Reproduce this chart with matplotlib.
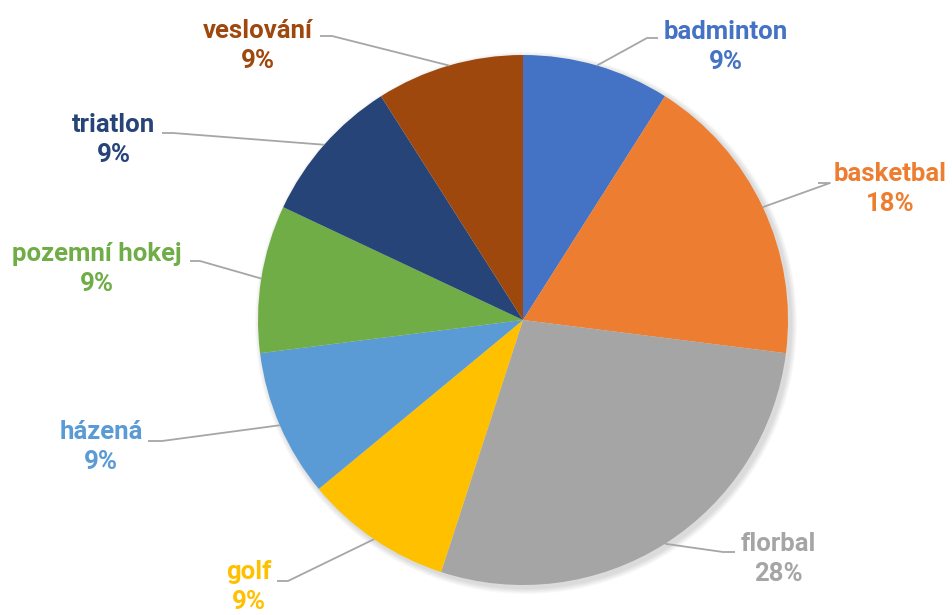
import numpy as np
import matplotlib.pyplot as plt

plt.rcParams['font.family'] = ['Roboto', 'DejaVu Sans']

sports = ['badminton', 'basketbal', 'florbal', 'golf', 'házená',
          'pozemní hokej', 'triatlon', 'veslování']
shares = [9, 18, 28, 9, 9, 9, 9, 9]
colors = ['#4472C4', '#ED7D31', '#A5A5A5', '#FFC000', '#5B9BD5',
          '#70AD47', '#264478', '#9E480E']

W, H = 952, 615
# label centre (x, y) and leader elbow / end, in pixel coords (y down)
label_pos = [(726, 47), (890, 189), (778, 559), (249, 587),
             (101, 447), (97, 269), (114, 140), (258, 46)]
elbows = [((647, 38), (658, 38)), ((830, 183), (818, 183)),
          ((723, 552), (735, 552)), ((288, 581), (277, 581)),
          ((162, 441), (148, 441)), ((200, 261), (190, 261)),
          ((173, 133), (162, 133)), ((332, 36), (320, 36))]

cx, cy, r = 523, 320, 265

fig = plt.figure(figsize=(W / 100, H / 100), dpi=100)
ax = fig.add_axes([0, 0, 1, 1])

# soft shadow
for k in range(6):
    ax.add_patch(plt.Circle((cx + 3, H - cy - 3), r + 6 - k, color='black',
                            alpha=0.025, lw=0, zorder=0))

wedges, _ = ax.pie(shares, colors=colors, startangle=90, counterclock=False,
                   center=(cx, H - cy), radius=r, frame=True,
                   wedgeprops=dict(linewidth=0))
ax.set_xlim(0, W)
ax.set_ylim(0, H)
ax.set_aspect('equal')
ax.axis('off')

for w, name, val, col, (lx, ly), (p1, p2) in zip(wedges, sports, shares, colors,
                                                   label_pos, elbows):
    mid = np.deg2rad((w.theta1 + w.theta2) / 2)
    sx = cx + r * np.cos(mid)
    sy = H - cy + r * np.sin(mid)
    ax.plot([sx, p1[0], p2[0]], [sy, H - p1[1], H - p2[1]],
            color='#A6A6A6', lw=1.3, solid_capstyle='butt', zorder=3)
    ax.text(lx, H - ly, f'{name}\n{val}%', ha='center', va='center',
            color=col, fontsize=18.5, fontweight='bold', linespacing=1.3,
            zorder=4)

fig.savefig('out.png', dpi=100)
